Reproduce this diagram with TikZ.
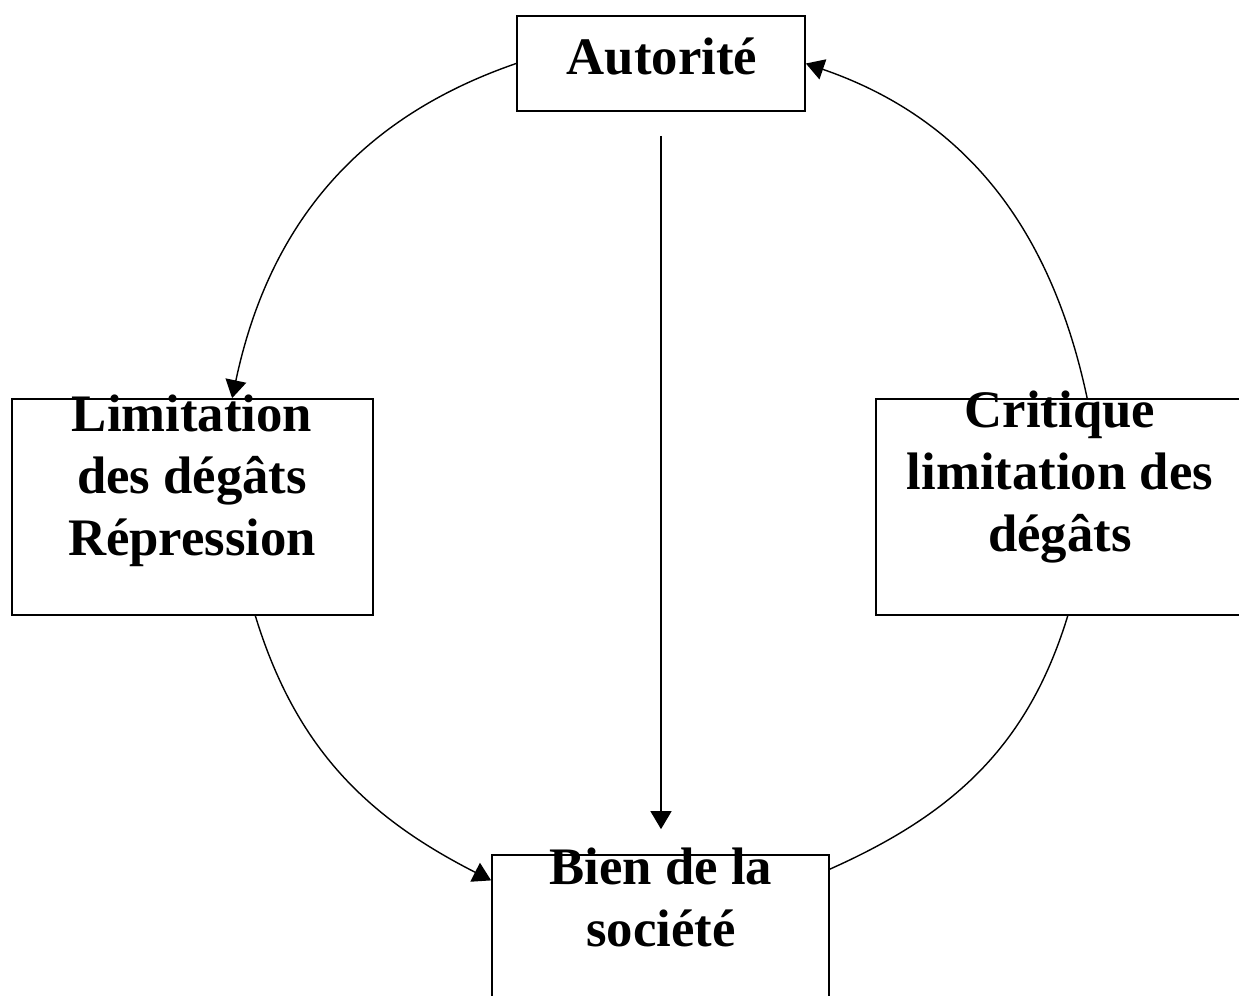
\documentclass[tikz,border=0pt]{standalone}
\usepackage{fontspec}
\setmainfont{Liberation Serif}
\usetikzlibrary{arrows.meta}

\tikzset{
    box/.style={draw, line width=0.5pt, inner sep=0pt},
    txt/.style={align=center, inner sep=0pt, font=\bfseries\fontsize{15pt}{17.6pt}\selectfont},
    link/.style={line width=0.4pt},
    arr/.style={link, -{Triangle[length=1.8mm, width=2.1mm]}}
}

\begin{document}
\begin{tikzpicture}
        \useasboundingbox (0,0) rectangle (12.39,-9.95);

        \node[box, minimum width=2.88cm, minimum height=0.95cm] (aut) at (6.61,-0.635) {};
        \node[box, minimum width=3.61cm, minimum height=2.16cm] (lim) at (1.925,-5.07) {};
        \node[box, minimum width=3.72cm, minimum height=2.16cm] (cri) at (10.62,-5.07) {};
        \node[box, minimum width=3.37cm, minimum height=2.16cm] (bien) at (6.605,-9.63) {};

        \node[txt, anchor=base] (autt) at (6.62,-0.74) {Autorité};
        \node[txt, anchor=north] (limt) at (1.92,-3.94) {Limitation\\ des dégâts\\ Répression};
        \node[txt, anchor=north] (crit) at (10.60,-3.90) {Critique\\ limitation des\\ dégâts};
        \node[txt, anchor=north] (bient) at (6.61,-8.47) {Bien de la\\ société};

        \draw[arr] (aut.west) to[out=199, in=78] (lim.70);
        \draw[arr] (lim.-60) to[out=-73, in=153] (bien.154);
        \draw[link] (bien.29) to[out=24, in=253] (cri.-87);
        \draw[arr] (cri.77) to[out=102, in=341] (aut.east);

        \draw[arr, shorten <=2.4mm, shorten >=2.5mm] (aut.south) -- (aut.south |- bien.north);
    \end{tikzpicture}
\end{document}
